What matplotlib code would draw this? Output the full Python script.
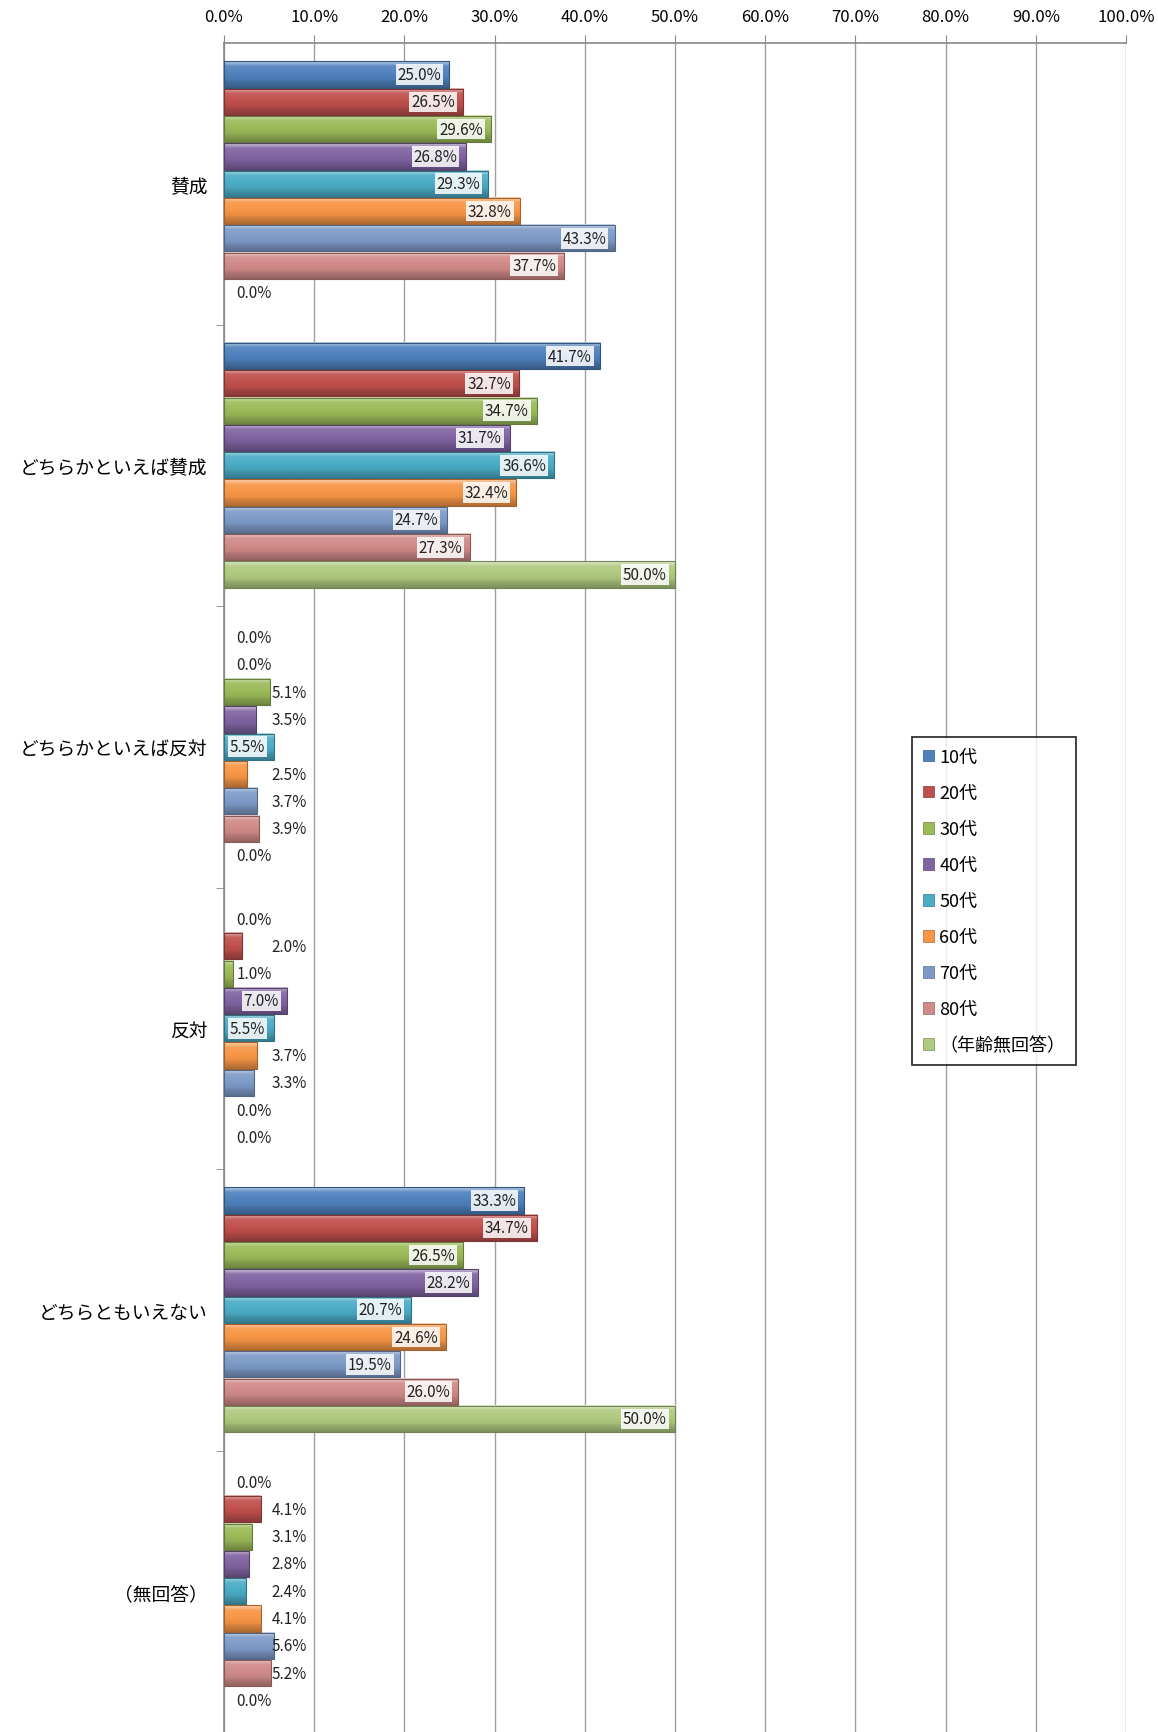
import matplotlib
matplotlib.use('Agg')
import matplotlib.pyplot as plt
from matplotlib.patches import Patch, Rectangle
from matplotlib.colors import to_rgb
from matplotlib.ticker import FixedLocator, FuncFormatter
import numpy as np

plt.rcParams['font.family'] = ['Noto Sans CJK JP', 'DejaVu Sans']

categories = ['賛成', 'どちらかといえば賛成', 'どちらかといえば反対', '反対', 'どちらともいえない', '（無回答）']
ages = ['10代', '20代', '30代', '40代', '50代', '60代', '70代', '80代', '（年齢無回答）']
colors = ['#4F81BD', '#C0504D', '#9BBB59', '#8064A2', '#4BACC6', '#F79646', '#7E9BC8', '#D08A88', '#AFC97F']

# values[category][age]
v_sansei = [25.0, 26.5, 29.6, 26.8, 29.3, 32.8, 43.3, 37.7, 0.0]
v_dochira_sansei = [41.7, 32.7, 34.7, 31.7, 36.6, 32.4, 24.7, 27.3, 50.0]
v_dochira_hantai = [0.0, 0.0, 5.1, 3.5, 5.5, 2.5, 3.7, 3.9, 0.0]
v_hantai = [0.0, 2.0, 1.0, 7.0, 5.5, 3.7, 3.3, 0.0, 0.0]
v_dochiratomo = [33.3, 34.7, 26.5, 28.2, 20.7, 24.6, 19.5, 26.0, 50.0]
v_mukaitou = [0.0, 4.1, 3.1, 2.8, 2.4, 4.1, 5.6, 5.2, 0.0]
values = [v_sansei, v_dochira_sansei, v_dochira_hantai, v_hantai, v_dochiratomo, v_mukaitou]

fig = plt.figure(figsize=(11.58, 17.33), dpi=100)
ax = fig.add_axes([0.1934, 0.0, 0.779, 0.9746])

h = 0.097
n = len(ages)


def shade(c, f):
    c = np.array(to_rgb(c))
    if f >= 0:
        return c + (1 - c) * f
    return c * (1 + f)


for i, vals in enumerate(values):
    for j, v in enumerate(vals):
        yc = i + (j - (n - 1) / 2) * h
        y0, y1 = yc - h / 2 * 0.96, yc + h / 2 * 0.96
        c = colors[j]
        if v > 0:
            t = np.linspace(0, 1, 24)
            grad = np.zeros((24, 1, 3))
            for k, tt in enumerate(t):
                if tt < 0.15:
                    grad[k, 0] = shade(c, 0.55 - tt * 2.5)
                elif tt < 0.7:
                    grad[k, 0] = shade(c, 0.1 - (tt - 0.15) * 0.3)
                else:
                    grad[k, 0] = shade(c, -0.1 - (tt - 0.7) * 0.6)
            ax.imshow(grad, extent=[0, v, y1, y0], aspect='auto', zorder=2,
                      interpolation='bilinear')
            ax.add_patch(Rectangle((0, y0), v, y1 - y0, fill=False,
                                   edgecolor=shade(c, -0.35), linewidth=0.8, zorder=3))
        # data labels
        txt = f'{v:.1f}%'
        if v >= 5.5 and v != 5.6:
            ax.text(v - 0.9, yc, txt, ha='right', va='center', fontsize=11, color='#222222',
                    zorder=4, bbox=dict(boxstyle='square,pad=0.12', facecolor='white',
                                        edgecolor='none', alpha=0.85))
        elif v < 1.5:
            ax.text(5.3, yc, txt, ha='right', va='center', fontsize=11, color='#222222', zorder=4)
        else:
            ax.text(5.3, yc, txt, ha='left', va='center', fontsize=11, color='#222222', zorder=4)

ax.set_xlim(0, 100)
ax.set_ylim(len(categories) - 0.5, -0.5)

ax.xaxis.tick_top()
ax.set_xticks(np.arange(0, 101, 10))
ax.xaxis.set_major_formatter(FuncFormatter(lambda x, pos: f'{x:.1f}%'))
ax.tick_params(axis='x', which='major', direction='out', length=6, color='#888888',
               labelsize=12, pad=7)
ax.grid(axis='x', color='#A0A0A0', linewidth=1.0, zorder=0)
ax.set_axisbelow(True)

ax.set_yticks(range(len(categories)))
ax.set_yticklabels(categories, fontsize=13.5)
ax.tick_params(axis='y', which='major', length=0, pad=12)
ax.yaxis.set_minor_locator(FixedLocator(np.arange(0.5, len(categories) - 0.5, 1)))
ax.tick_params(axis='y', which='minor', length=6, color='#888888', direction='out')

for s in ['bottom', 'right']:
    ax.spines[s].set_visible(False)
for s in ['top', 'left']:
    ax.spines[s].set_color('#888888')
    ax.spines[s].set_linewidth(1.2)

handles = [Patch(facecolor=c, edgecolor=shade(c, -0.3), linewidth=0.5) for c in colors]
leg = ax.legend(handles, ages, loc='upper left', bbox_to_anchor=(0.763, 0.589),
                frameon=True, fancybox=False, fontsize=13, handlelength=0.6,
                handleheight=0.6, handletextpad=0.3, labelspacing=1.0,
                borderpad=0.6, borderaxespad=0)
leg.get_frame().set_edgecolor('black')
leg.get_frame().set_linewidth(1.3)

fig.savefig('out.png', dpi=100)
